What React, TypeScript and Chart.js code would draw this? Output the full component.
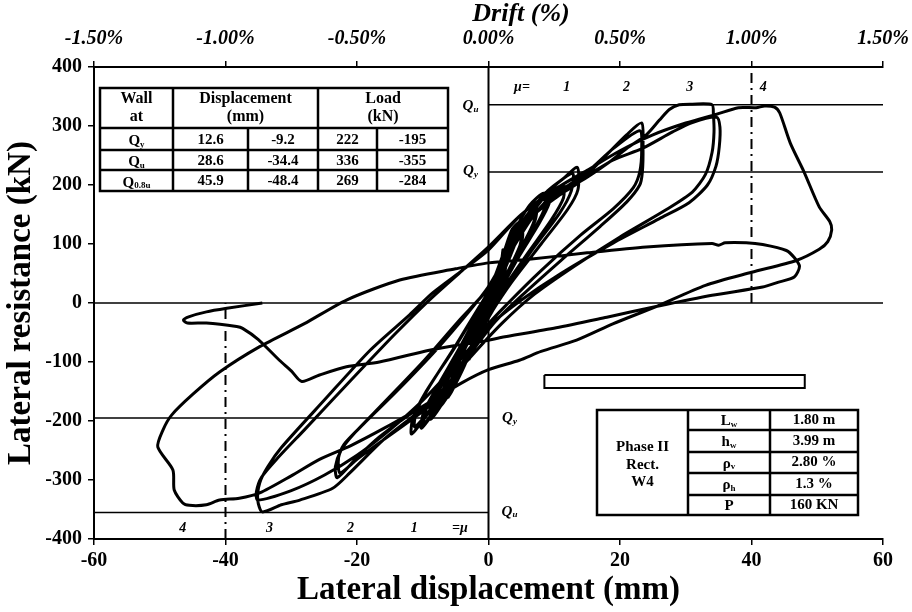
import React, { useEffect, useRef } from "react";
import { Chart, registerables } from "chart.js";

Chart.register(...registerables);

const SERIF = "'Liberation Serif', 'Times New Roman', serif";

// ---------- axis ticks ----------
const dispTicks = [-60, -40, -20, 0, 20, 40, 60];
const driftTicks = [-1.5, -1.0, -0.5, 0, 0.5, 1.0, 1.5];
const loadTicks = [-400, -300, -200, -100, 0, 100, 200, 300, 400];

// ---------- characteristic points table ----------
const rowLabels = [["Q", "y"], ["Q", "u"], ["Q", "0.8u"]];
const dispPos = [12.6, 28.6, 45.9];
const dispNeg = [-9.2, -34.4, -48.4];
const loadPos = [222, 336, 269];
const loadNeg = [-195, -355, -284];

// ---------- wall parameters ----------
const wallId = ["Phase II", "Rect.", "W4"];
const paramNames = [["L", "w"], ["h", "w"], ["ρ", "v"], ["ρ", "h"], ["P", ""]];
const paramValues = ["1.80 m", "3.99 m", "2.80 %", "1.3 %", "160 KN"];

// ductility levels
const muLabels = ["1", "2", "3", "4"];
const mu4Disp = 40;

// hollow bar (mm, kN)
const barX = [8.5, 48.1];
const barY = [-122, -144];

// ---------- hysteresis (displacement mm, load kN) ----------
const cycleE1 = [[0, 0], [1, 25], [2, 48], [2.6, 62], [2.4, 48], [1.4, 22], [0.3, -5], [-1, -32], [-2, -55], [-2.6, -68], [-2.3, -50], [-1.2, -20], [0, 5]];
const cycleE1b = [[0.8, 28], [1.8, 58], [2.2, 90], [2.1, 72], [1.2, 35], [0, 0], [-1, -30], [-2.2, -70], [-2.9, -95], [-2.6, -72], [-1.4, -30], [-0.2, 2]];
const cycleE2 = [[1, 30], [2.5, 65], [4, 100], [5, 118], [4.8, 98], [3.6, 68], [1.8, 28], [0.4, -8], [-1.2, -42], [-2.8, -82], [-4.2, -115], [-5, -132], [-4.7, -108], [-3.4, -72], [-1.6, -30], [0, 5]];
const cycleE2b = [[1.2, 35], [2.8, 72], [4.3, 105], [5.2, 120], [5, 100], [3.8, 70], [2, 30], [0.5, -6], [-1, -40], [-2.6, -80], [-4, -112], [-5.2, -135], [-4.9, -112], [-3.6, -76], [-1.8, -33], [-0.2, 3]];
const cycleE3 = [[1.2, 38], [3, 85], [5, 128], [7, 158], [6.9, 138], [5.5, 105], [3.2, 58], [1, 12], [-1, -35], [-3, -88], [-5, -135], [-7, -170], [-6.8, -145], [-5.2, -108], [-2.8, -55], [-0.6, 0]];
const cycleE3b = [[1.4, 42], [3.3, 92], [5.3, 135], [7.3, 162], [7.1, 140], [5.7, 108], [3.4, 60], [1.2, 14], [-0.8, -32], [-3.2, -92], [-5.3, -140], [-7.3, -175], [-7, -150], [-5.4, -112], [-3, -58], [-0.8, -2]];
const cycleE3c = [[0.8, 40], [2.4, 88], [3.6, 125], [4.7, 137], [4.6, 118], [3.4, 82], [1.8, 40], [0.2, 0], [-1.6, -48], [-3.6, -105], [-5.6, -150], [-6.2, -160], [-5.8, -135], [-4.3, -95], [-2.2, -45], [-0.4, 2]];
const cycleE4 = [[1.5, 48], [4, 108], [6.5, 155], [8.8, 188], [8.9, 165], [7.4, 130], [4.5, 78], [1.5, 18], [-1, -32], [-3.5, -98], [-6, -152], [-8.5, -192], [-8.3, -168], [-6.6, -128], [-3.6, -65], [-0.8, 0]];
const cycleE4b = [[1.7, 52], [4.3, 115], [6.8, 160], [9.2, 190], [9.2, 168], [7.6, 133], [4.7, 80], [1.7, 20], [-0.8, -30], [-3.7, -102], [-6.3, -157], [-8.8, -197], [-8.6, -172], [-6.8, -132], [-3.8, -68], [-1, -2]];
const cycleE5 = [[1.8, 58], [4.7, 122], [7.5, 168], [11.3, 200], [11.4, 178], [9.5, 140], [6, 85], [2, 20], [-0.8, -30], [-3.8, -100], [-7, -160], [-9.8, -205], [-9.5, -180], [-7.5, -138], [-4, -70], [-1, -2]];
const cycleE5b = [[1.4, 55], [3.8, 118], [6.2, 165], [8.4, 186], [8.5, 160], [6.8, 122], [4, 68], [1.2, 10], [-1.4, -45], [-4.4, -115], [-7.4, -170], [-10.2, -212], [-9.9, -186], [-7.8, -142], [-4.4, -76], [-1.2, -8]];
const cycleMu1a = [[2, 65], [5, 135], [9, 190], [11.5, 212], [13.5, 230], [13.6, 192], [12, 158], [8, 100], [3.5, 35], [0.5, -15], [-2.5, -72], [-6, -140], [-9.5, -192], [-11.7, -222], [-11.5, -195], [-9.5, -150], [-5.5, -82], [-2, -18], [0, 20]];
const cycleMu1b = [[3, 82], [6.5, 150], [10, 198], [12.8, 220], [12.6, 190], [10.8, 152], [6.5, 88], [2.5, 22], [0, -25], [-3.5, -92], [-7.5, -160], [-11.2, -210], [-11, -185], [-9, -142], [-5, -72], [-1.5, -8], [0, 18]];
const cycleMu2a = [[2.5, 70], [6, 140], [10.8, 183], [13.8, 205], [16.9, 239], [21, 285], [23.3, 305], [23.5, 265], [23.4, 222], [23, 200], [21, 171], [17, 130], [11, 72], [5, 12], [1, -32], [-3, -90], [-7, -155], [-11.6, -186], [-16.6, -227], [-20, -262], [-23, -296], [-23.3, -278], [-22.4, -249], [-20.5, -222], [-16, -170], [-10, -100], [-4.5, -30], [0, 25]];
const cycleMu2b = [[3, 80], [7, 150], [11, 190], [15, 222], [19, 262], [23, 292], [23.3, 260], [23, 222], [22, 195], [19, 160], [14, 115], [8, 55], [3, 0], [-0.5, -42], [-4, -105], [-8, -165], [-12, -200], [-16, -232], [-20, -265], [-22.6, -288], [-22.8, -262], [-22, -240], [-19, -205], [-14, -150], [-8, -80], [-3, -15], [0, 28]];
const cycleMu3a = [[3, 85], [7, 150], [10, 185], [13.8, 205], [18.4, 239], [21, 262], [24, 285], [26, 310], [27.5, 328], [29, 336], [31, 337], [34, 336], [34.2, 320], [34.3, 290], [34, 255], [33, 218], [31, 188], [27, 158], [20, 112], [13, 62], [7, 15], [2, -35], [-3, -95], [-8, -160], [-11.6, -193], [-16, -232], [-21.1, -288], [-23.7, -314], [-28.7, -334], [-31.5, -342], [-34.4, -354], [-35.1, -334], [-34.8, -305], [-33.6, -278], [-31.5, -245], [-25, -165], [-18, -80], [-12, -20], [-8.5, 17], [-4, 55]];
const cycleMu3b = [[0, 90], [5, 150], [10, 188], [13.8, 208], [18.9, 242], [23.4, 262], [28, 290], [31, 306], [34.7, 315], [35.2, 298], [35.1, 265], [34.6, 232], [33.3, 200], [30.5, 170], [26, 143], [19, 102], [11, 50], [5, 5], [0, -40], [-5, -105], [-10, -165], [-15, -215], [-20, -258], [-25, -292], [-30, -318], [-35.1, -334], [-35.3, -320], [-34.5, -295], [-32, -262], [-28, -215], [-20, -120], [-14, -50], [-9, 5], [-4, 55], [0, 95]];
const pushMu4 = [[5, 150], [10, 192], [15, 225], [20, 258], [25, 285], [30, 305], [34.7, 320], [38, 331], [40.7, 331], [42, 334], [43.5, 332], [44.3, 322], [45.9, 271], [48, 222], [50.3, 163], [51.9, 138], [52.2, 124]];
const pullMu4 = [[51.6, 104], [50.3, 91], [46.8, 72], [40, 52], [33, 30], [25.5, -6], [19, -35], [13.4, -63], [8, -82], [4.7, -97], [0, -113], [-4, -135], [-10, -175], [-16, -213], [-21, -242], [-25.7, -265], [-30, -293], [-34.8, -322], [-37.9, -331], [-40.9, -334], [-42.9, -342], [-45.5, -343], [-46.5, -339], [-47.8, -317], [-48, -283], [-50.3, -244], [-49.5, -215], [-48.2, -190], [-45, -155], [-40.9, -117], [-34.8, -74], [-28, -35], [-21.6, 5], [-13.5, 39], [-5, 58], [0, 68]];
const pushFinal = [[6.2, 74], [15, 85], [24, 95], [34, 101], [35, 98], [36, 102], [39.2, 102], [41.7, 99], [45.3, 89], [46.5, 77], [47.3, 62], [46.5, 44], [44, 35], [41.7, 27], [34, 13], [25.5, -6], [18, -24], [10.3, -42], [1.7, -59], [0, -63]];
const pullFinal = [[-4.4, -71], [-9, -80], [-16.6, -100], [-21.6, -108], [-25.7, -122], [-28.4, -133], [-30, -115], [-31.8, -97], [-35, -62], [-37.4, -43], [-38.3, -40], [-42.9, -34], [-45.8, -34], [-46.4, -29], [-45.5, -23], [-42.9, -15], [-39.8, -9], [-34.4, 0]];

const hysteresis = [
  cycleE1, cycleE1b, cycleE2, cycleE2b, cycleE3, cycleE3b, cycleE3c, cycleE4, cycleE4b, cycleE5, cycleE5b,
  cycleMu1a, cycleMu1b, cycleMu2a, cycleMu2b, cycleMu3a, cycleMu3b,
  pushMu4, pullMu4, pushFinal, pullFinal,
].flat().map(([x, y]) => ({ x, y }));

function drawSub(ctx: CanvasRenderingContext2D, main: string, sub: string, cx: number, cy: number, size: number, italic: boolean) {
  const f = `${italic ? "italic " : ""}bold ${size}px ${SERIF}`;
  const fs = `${italic ? "italic " : ""}bold ${Math.round(size * 0.62)}px ${SERIF}`;
  ctx.font = f;
  const w1 = ctx.measureText(main).width;
  ctx.font = fs;
  const w2 = sub ? ctx.measureText(sub).width : 0;
  const x0 = cx - (w1 + w2) / 2;
  ctx.textAlign = "left";
  ctx.textBaseline = "alphabetic";
  const base = cy + size * 0.34;
  ctx.font = f;
  ctx.fillText(main, x0, base);
  if (sub) {
    ctx.font = fs;
    ctx.fillText(sub, x0 + w1, base + size * 0.12);
  }
}

function drawCenter(ctx: CanvasRenderingContext2D, text: string, cx: number, cy: number, font: string) {
  ctx.font = font;
  ctx.textAlign = "center";
  ctx.textBaseline = "middle";
  ctx.fillText(text, cx, cy);
}

function line(ctx: CanvasRenderingContext2D, x1: number, y1: number, x2: number, y2: number) {
  ctx.beginPath();
  ctx.moveTo(x1, y1);
  ctx.lineTo(x2, y2);
  ctx.stroke();
}

const annotations = {
  id: "annotations",
  afterDatasetsDraw(chart: any) {
    const ctx: CanvasRenderingContext2D = chart.ctx;
    const xs = chart.scales.x;
    const ys = chart.scales.y;
    const x0 = xs.getPixelForValue(0);
    ctx.save();
    ctx.fillStyle = "#000";
    ctx.strokeStyle = "#000";

    // ---- top axis title ----
    drawCenter(ctx, "Drift (%)", 521, 14, `italic bold 26px ${SERIF}`);

    // ---- characteristic table ----
    const tx = [100, 173, 248, 318, 377, 448];
    const ty = [88, 128, 150, 170, 191];
    ctx.fillStyle = "#fff";
    ctx.fillRect(tx[0], ty[0], tx[5] - tx[0], ty[4] - ty[0]);
    ctx.fillStyle = "#000";
    ctx.lineWidth = 2.5;
    ctx.strokeRect(tx[0], ty[0], tx[5] - tx[0], ty[4] - ty[0]);
    line(ctx, tx[1], ty[0], tx[1], ty[4]);
    line(ctx, tx[3], ty[0], tx[3], ty[4]);
    line(ctx, tx[2], ty[1], tx[2], ty[4]);
    line(ctx, tx[4], ty[1], tx[4], ty[4]);
    for (let i = 1; i < 4; i++) line(ctx, tx[0], ty[i], tx[5], ty[i]);
    const hf = `bold 15px ${SERIF}`;
    const hf2 = `bold 16px ${SERIF}`;
    drawCenter(ctx, "Wall", (tx[0] + tx[1]) / 2, 99, hf2);
    drawCenter(ctx, "at", (tx[0] + tx[1]) / 2, 117, hf2);
    drawCenter(ctx, "Displacement", (tx[1] + tx[3]) / 2, 99, hf2);
    drawCenter(ctx, "(mm)", (tx[1] + tx[3]) / 2, 117, hf2);
    drawCenter(ctx, "Load", (tx[3] + tx[5]) / 2, 99, hf2);
    drawCenter(ctx, "(kN)", (tx[3] + tx[5]) / 2, 117, hf2);
    for (let i = 0; i < 3; i++) {
      const cy = (ty[i + 1] + ty[i + 2]) / 2 + 1;
      drawSub(ctx, rowLabels[i][0], rowLabels[i][1], (tx[0] + tx[1]) / 2, cy, 15, false);
      drawCenter(ctx, dispPos[i].toFixed(1), (tx[1] + tx[2]) / 2, cy, hf);
      drawCenter(ctx, dispNeg[i].toFixed(1), (tx[2] + tx[3]) / 2, cy, hf);
      drawCenter(ctx, String(loadPos[i]), (tx[3] + tx[4]) / 2, cy, hf);
      drawCenter(ctx, String(loadNeg[i]), (tx[4] + tx[5]) / 2, cy, hf);
    }

    // ---- parameters table ----
    const px = [597, 688, 770, 858];
    const py = [410, 430, 452, 473, 495, 515];
    ctx.fillStyle = "#fff";
    ctx.fillRect(px[0], py[0], px[3] - px[0], py[5] - py[0]);
    ctx.fillStyle = "#000";
    ctx.strokeRect(px[0], py[0], px[3] - px[0], py[5] - py[0]);
    line(ctx, px[1], py[0], px[1], py[5]);
    line(ctx, px[2], py[0], px[2], py[5]);
    for (let i = 1; i < 5; i++) line(ctx, px[1], py[i], px[3], py[i]);
    drawCenter(ctx, wallId[0], (px[0] + px[1]) / 2, 447, hf);
    drawCenter(ctx, wallId[1], (px[0] + px[1]) / 2, 465, hf);
    drawCenter(ctx, wallId[2], (px[0] + px[1]) / 2, 482, hf);
    for (let i = 0; i < 5; i++) {
      const cy = (py[i] + py[i + 1]) / 2;
      drawSub(ctx, paramNames[i][0], paramNames[i][1], (px[1] + px[2]) / 2, cy, 15, false);
      drawCenter(ctx, paramValues[i], (px[2] + px[3]) / 2, cy, hf);
    }

    // ---- Q labels ----
    drawSub(ctx, "Q", "u", x0 - 18, ys.getPixelForValue(loadPos[1]), 15, true);
    drawSub(ctx, "Q", "y", x0 - 18, ys.getPixelForValue(loadPos[0]) - 2, 15, true);
    drawSub(ctx, "Q", "y", x0 + 21, ys.getPixelForValue(loadNeg[0]) - 1, 15, true);
    drawSub(ctx, "Q", "u", x0 + 21, ys.getPixelForValue(loadNeg[1]) - 2, 15, true);

    // ---- ductility labels ----
    const mf = `italic bold 14px ${SERIF}`;
    const topY = 87;
    const botY = 528;
    drawCenter(ctx, "μ=", 522, topY, mf);
    const topPos = [11.9, 21.0, 30.6, 41.8];
    topPos.forEach((v, i) => drawCenter(ctx, muLabels[i], xs.getPixelForValue(v), topY, mf));
    const botPos = [-11.3, -21.0, -33.3, -46.5];
    botPos.forEach((v, i) => drawCenter(ctx, muLabels[i], xs.getPixelForValue(v), botY, mf));
    drawCenter(ctx, "=μ", 460, botY, mf);

    ctx.restore();
  },
};

const seg = (pts: { x: number; y: number }[], width: number, dash: number[] = []) => ({
  data: pts,
  showLine: true,
  borderColor: "#000",
  borderWidth: width,
  borderDash: dash,
  pointRadius: 0,
  tension: 0,
  fill: false,
});

export default function App() {
  const ref = useRef<HTMLCanvasElement>(null);
  useEffect(() => {
    document.body.style.margin = "0";
    const canvas = ref.current!;
    const tickFont = { family: SERIF, size: 20, weight: "bold" as const };
    const noPad = (s: any) => { s.paddingLeft = 0; s.paddingRight = 0; };
    const chart = new Chart(canvas, {
      type: "scatter",
      data: {
        datasets: [
          {
            data: hysteresis,
            showLine: true,
            borderColor: "#000",
            borderWidth: 3,
            pointRadius: 0,
            tension: 0.25,
            fill: false,
          },
          seg([{ x: -60, y: 0 }, { x: 60, y: 0 }], 1.5),
          seg([{ x: 0, y: -400 }, { x: 0, y: 400 }], 2),
          seg([{ x: 0, y: loadPos[1] }, { x: 60, y: loadPos[1] }], 1.5),
          seg([{ x: 0, y: loadPos[0] }, { x: 60, y: loadPos[0] }], 1.5),
          seg([{ x: -60, y: loadNeg[0] }, { x: 0, y: loadNeg[0] }], 1.5),
          seg([{ x: -60, y: loadNeg[1] }, { x: 0, y: loadNeg[1] }], 1.5),
          seg([{ x: mu4Disp, y: 0 }, { x: mu4Disp, y: 400 }], 2, [10, 5, 2, 5]),
          seg([{ x: -mu4Disp, y: -400 }, { x: -mu4Disp, y: 0 }], 2, [10, 5, 2, 5]),
          seg([
            { x: barX[0], y: barY[0] }, { x: barX[1], y: barY[0] },
            { x: barX[1], y: barY[1] }, { x: barX[0], y: barY[1] },
            { x: barX[0], y: barY[0] },
          ], 2),
        ],
      },
      options: {
        responsive: false,
        animation: false,
        devicePixelRatio: 1,
        layout: { padding: { left: 0, right: 29, top: 0, bottom: 0 } },
        plugins: { legend: { display: false }, tooltip: { enabled: false } },
        scales: {
          x: {
            type: "linear",
            position: "bottom",
            min: -60,
            max: 60,
            afterBuildTicks: (s: any) => { s.ticks = dispTicks.map((v) => ({ value: v })); },
            afterFit: (s: any) => { s.height = 73; noPad(s); },
            ticks: { color: "#000", font: tickFont, padding: 4, maxRotation: 0 },
            grid: { drawOnChartArea: false, drawTicks: true, tickLength: 6, color: "#000", lineWidth: 1.5 },
            border: { display: true, color: "#000", width: 2 },
            title: {
              display: true,
              text: "Lateral displacement (mm)",
              color: "#000",
              font: { family: SERIF, size: 33, weight: "bold" },
              padding: { top: 0, bottom: 2 },
            },
          },
          x2: {
            type: "linear",
            position: "top",
            min: -1.5,
            max: 1.5,
            afterBuildTicks: (s: any) => { s.ticks = driftTicks.map((v) => ({ value: v })); },
            afterFit: (s: any) => { s.height = 67; noPad(s); },
            ticks: {
              color: "#000",
              font: { family: SERIF, size: 20, weight: "bold", style: "italic" },
              padding: 10,
              maxRotation: 0,
              callback: (v: any) => `${Number(v).toFixed(2)}%`,
            },
            grid: { drawOnChartArea: false, drawTicks: true, tickLength: 6, color: "#000", lineWidth: 1.5 },
            border: { display: true, color: "#000", width: 2 },
            title: { display: false },
          },
          y: {
            type: "linear",
            min: -400,
            max: 400,
            afterBuildTicks: (s: any) => { s.ticks = loadTicks.map((v) => ({ value: v })); },
            afterFit: (s: any) => { s.width = 94; },
            ticks: { color: "#000", font: tickFont, padding: 6 },
            grid: { drawOnChartArea: false, drawTicks: true, tickLength: 6, color: "#000", lineWidth: 1.5 },
            border: { display: true, color: "#000", width: 2 },
            title: {
              display: true,
              text: "Lateral resistance (kN)",
              color: "#000",
              font: { family: SERIF, size: 33, weight: "bold" },
              padding: { top: 2, bottom: 2 },
            },
          },
        },
      },
      plugins: [annotations],
    } as any);
    return () => chart.destroy();
  }, []);
  return (
    <div style={{ width: 912, height: 612, position: "relative" }}>
      <canvas ref={ref} width={912} height={612} style={{ display: "block", width: 912, height: 612 }} />
    </div>
  );
}
